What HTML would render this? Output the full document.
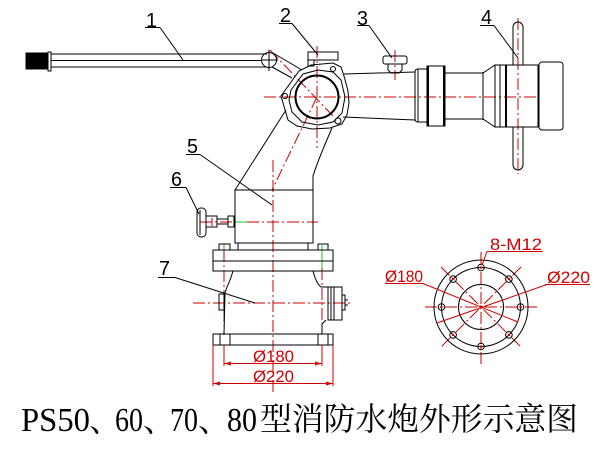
<!DOCTYPE html>
<html><head><meta charset="utf-8"><style>
html,body{margin:0;padding:0;background:#fff;}
svg{display:block;}
.lbl{font-family:"Liberation Sans",sans-serif;font-size:20px;fill:#000;}
.rt{font-family:"Liberation Sans",sans-serif;font-size:17px;fill:#d00000;}
</style></head><body>
<svg width="606" height="453" viewBox="0 0 606 453" xmlns="http://www.w3.org/2000/svg">
<rect width="606" height="453" fill="#fff"/>

<!-- RED CENTER LINES -->
<g fill="none" stroke="#c80000" stroke-width="1" stroke-dasharray="12,3,2,3">
  <line x1="264" y1="97" x2="536" y2="97"/>
  <line x1="317" y1="46" x2="317" y2="148"/>
  <line x1="270" y1="50" x2="333" y2="116"/>
  <line x1="317" y1="97" x2="272" y2="190"/>
  <line x1="273" y1="160" x2="273" y2="392"/>
  <line x1="395" y1="50" x2="395" y2="80"/>
  <line x1="518" y1="18" x2="518" y2="174"/>
  <line x1="200" y1="222" x2="234" y2="222"/>
  <line x1="247" y1="222" x2="318" y2="222"/>
  <line x1="193" y1="303" x2="350" y2="303"/>
  <line x1="224" y1="250" x2="224" y2="334"/>
  <line x1="322" y1="268" x2="322" y2="334"/>
  <!-- flange view -->
  <line x1="425" y1="307" x2="537" y2="307"/>
  <line x1="481" y1="252" x2="481" y2="364"/>
  <line x1="441" y1="267" x2="521" y2="347"/>
  <line x1="521" y1="267" x2="441" y2="347"/>
</g>
<g stroke="#c80000" stroke-width="1">
  <line x1="212" y1="218" x2="212" y2="226"/>
</g>

<!-- GREEN lines -->
<g stroke="#1fbf1f" stroke-width="1">
  <line x1="234" y1="222" x2="247" y2="222"/>
  <line x1="224" y1="244" x2="224" y2="250"/>
  <line x1="322" y1="245" x2="322" y2="268"/>
</g>

<!-- BLACK DRAWING -->
<g fill="none" stroke="#000" stroke-width="1">
  <!-- handle -->
  <rect x="26" y="53" width="21" height="16" fill="#000"/>
  <rect x="48" y="52" width="3" height="19"/>
  <line x1="51" y1="54" x2="267" y2="54"/>
  <line x1="51" y1="60.5" x2="262" y2="60.5"/>
  <line x1="51" y1="67" x2="267" y2="67"/>
  <circle cx="269" cy="60" r="7.5"/>
  <line x1="269" y1="50" x2="269" y2="71"/>
  <line x1="261" y1="60" x2="278" y2="60"/>
  <line x1="273" y1="53" x2="302" y2="70"/>
  <line x1="272" y1="67" x2="292" y2="78"/>

  <!-- elbow -->
  <path d="M281,96 L299,71 L311,65 L333,63 L341,67 L344,76 L348,91 L349,103 L347,115 L342,124 L330,128 L312,129 L297,126 L288,120 Z"/>
  <path d="M291,90 L303,74 L318,70 L333,72 L341,80 L345,97 L342,113 L333,122 L318,125 L302,122 L292,112 L289,100 Z"/>
  <circle cx="317" cy="97" r="21.5" stroke-width="2"/>
  <circle cx="333" cy="69" r="2.5"/>
  <circle cx="338" cy="121" r="3"/>
  <circle cx="285" cy="96" r="2.5"/>
  <rect x="308" y="52" width="30" height="8"/>
  <rect x="308" y="60" width="6" height="6"/>

  <!-- pipe -->
  <line x1="344" y1="74" x2="415" y2="72"/>
  <line x1="343" y1="117" x2="415" y2="120"/>
  <!-- knob 3 -->
  <rect x="383" y="56" width="24" height="8" rx="2"/>
  <path d="M388,64 L388,70 L391,73 L399,73 L402,70 L402,64"/>

  <!-- nozzle -->
  <path d="M427,69 L418,69 Q415,69 415,72 L415,119 Q415,122 418,122 L427,122"/>
  <line x1="418" y1="69" x2="418" y2="122"/>
  <rect x="427" y="66" width="18" height="60"/>
  <line x1="428" y1="66" x2="428" y2="126" stroke-width="2"/>
  <line x1="444" y1="66" x2="444" y2="126" stroke-width="2"/>
  <line x1="445" y1="73" x2="483" y2="73"/>
  <line x1="445" y1="119" x2="483" y2="119"/>
  <line x1="483" y1="72" x2="483" y2="120"/>
  <line x1="483" y1="73" x2="495" y2="65"/>
  <line x1="483" y1="119" x2="495" y2="127"/>
  <rect x="495" y="65" width="43" height="62"/>
  <line x1="500" y1="65" x2="500" y2="127"/>
  <line x1="506" y1="65" x2="506" y2="127" stroke-width="2"/>
  <rect x="539" y="62" width="24" height="68" rx="3"/>
  <!-- wheel 4 -->
  <path d="M513,65 L513,27 A5,5 0 0 1 523,27 L523,65"/>
  <path d="M513,127 L513,165 A5,5 0 0 0 523,165 L523,127"/>

  <!-- arm -->
  <line x1="286" y1="110" x2="235" y2="190"/>
  <path d="M332,128 Q318,160 313,176 L313,190"/>

  <!-- upper block -->
  <rect x="235" y="190" width="78" height="53"/>
  <rect x="238" y="243" width="70" height="7"/>
  <rect x="219" y="244" width="11" height="6"/>
  <rect x="318" y="244" width="10" height="6"/>
  <rect x="213" y="250" width="120" height="21"/>
  <line x1="213" y1="261" x2="333" y2="261"/>

  <!-- valve 6 -->
  <rect x="197" y="208" width="9" height="29" rx="4"/>
  <line x1="200" y1="210" x2="200" y2="235"/>
  <rect x="206" y="216" width="11" height="11"/>
  <rect x="217" y="219" width="11" height="5"/>
  <rect x="228" y="216" width="6" height="11"/>

  <!-- lower body -->
  <path d="M233,271 Q230,281 227,287 L225,293 L224,335"/>
  <rect x="219" y="294" width="5" height="16"/>
  <path d="M313,271 Q316,283 321,287 L328,287"/>
  <rect x="328" y="287" width="14" height="33"/>
  <line x1="331" y1="287" x2="331" y2="320"/>
  <line x1="334" y1="287" x2="334" y2="320"/>
  <rect x="342" y="295" width="3" height="15"/>
  <line x1="345" y1="300" x2="348" y2="300"/>
  <line x1="345" y1="305" x2="348" y2="305"/>
  <path d="M326,320 L322,324 L322,334"/>
  <rect x="213" y="334" width="120" height="11"/>
  <line x1="220" y1="334" x2="220" y2="345"/>
  <line x1="230" y1="334" x2="230" y2="345"/>
  <line x1="318" y1="334" x2="318" y2="345"/>
  <line x1="328" y1="334" x2="328" y2="345"/>

  <!-- flange view -->
  <circle cx="481" cy="307" r="47"/>
  <circle cx="481" cy="307" r="39.5"/>
  <circle cx="481" cy="307" r="22.5"/>
  <circle cx="481" cy="267.5" r="3.3"/>
  <circle cx="481" cy="346.5" r="3.3"/>
  <circle cx="441.5" cy="307" r="3.3"/>
  <circle cx="520.5" cy="307" r="3.3"/>
  <circle cx="453.1" cy="279.1" r="3.3"/>
  <circle cx="508.9" cy="279.1" r="3.3"/>
  <circle cx="453.1" cy="334.9" r="3.3"/>
  <circle cx="508.9" cy="334.9" r="3.3"/>

  <!-- leaders -->
  <line x1="145" y1="27.5" x2="160" y2="27.5"/>
  <line x1="160" y1="27.5" x2="183" y2="60"/>
  <line x1="279" y1="23.5" x2="292" y2="23.5"/>
  <line x1="292" y1="23.5" x2="318" y2="55"/>
  <line x1="357" y1="25.5" x2="369" y2="25.5"/>
  <line x1="369" y1="25.5" x2="392" y2="58"/>
  <line x1="480" y1="25.5" x2="494" y2="25.5"/>
  <line x1="494" y1="25.5" x2="518" y2="58"/>
  <line x1="186" y1="154.5" x2="200" y2="154.5"/>
  <line x1="200" y1="154.5" x2="272" y2="205"/>
  <line x1="170" y1="187.5" x2="186" y2="187.5"/>
  <line x1="186" y1="187.5" x2="199" y2="214"/>
  <line x1="158" y1="277.5" x2="175" y2="277.5"/>
  <line x1="175" y1="277.5" x2="255" y2="303"/>
</g>

<!-- RED DIMENSIONS -->
<g fill="none" stroke="#d00000" stroke-width="1">
  <line x1="224" y1="345" x2="224" y2="366"/>
  <line x1="322" y1="345" x2="322" y2="366"/>
  <line x1="224" y1="363.5" x2="322" y2="363.5"/>
  <line x1="213" y1="345" x2="213" y2="386"/>
  <line x1="333" y1="345" x2="333" y2="386"/>
  <line x1="213" y1="383.5" x2="333" y2="383.5"/>
  <!-- flange view leaders -->
  <line x1="385" y1="283.5" x2="423" y2="283.5"/>
  <line x1="423" y1="283.5" x2="518" y2="322"/>
  <line x1="545" y1="284.5" x2="590" y2="284.5"/>
  <line x1="547" y1="284.5" x2="437" y2="323"/>
  <line x1="487" y1="251.5" x2="543" y2="251.5"/>
  <line x1="487" y1="251.5" x2="482" y2="265"/>
</g>
<g fill="#d00000">
  <polygon points="224,363.5 231,361.5 231,365.5"/>
  <polygon points="322,363.5 315,361.5 315,365.5"/>
  <polygon points="213,383.5 220,381.5 220,385.5"/>
  <polygon points="333,383.5 326,381.5 326,385.5"/>
  <circle cx="481" cy="307" r="1.5"/>
  <circle cx="481" cy="267.5" r="1.2"/>
  <circle cx="481" cy="346.5" r="1.2"/>
  <circle cx="441.5" cy="307" r="1.2"/>
  <circle cx="520.5" cy="307" r="1.2"/>
  <circle cx="453.1" cy="279.1" r="1.2"/>
  <circle cx="508.9" cy="279.1" r="1.2"/>
  <circle cx="453.1" cy="334.9" r="1.2"/>
  <circle cx="508.9" cy="334.9" r="1.2"/>
</g>

<!-- labels -->
<text class="lbl" x="146" y="27" textLength="11" lengthAdjust="spacingAndGlyphs">1</text>
<text class="lbl" x="280" y="22" textLength="11" lengthAdjust="spacingAndGlyphs">2</text>
<text class="lbl" x="357" y="25" textLength="11" lengthAdjust="spacingAndGlyphs">3</text>
<text class="lbl" x="481" y="24" textLength="11" lengthAdjust="spacingAndGlyphs">4</text>
<text class="lbl" x="187" y="153" textLength="11" lengthAdjust="spacingAndGlyphs">5</text>
<text class="lbl" x="171" y="186" textLength="11" lengthAdjust="spacingAndGlyphs">6</text>
<text class="lbl" x="159" y="275" textLength="11" lengthAdjust="spacingAndGlyphs">7</text>

<text class="rt" x="253" y="362" textLength="41" lengthAdjust="spacingAndGlyphs">Ø180</text>
<text class="rt" x="253" y="382" textLength="41" lengthAdjust="spacingAndGlyphs">Ø220</text>
<text class="rt" x="385" y="282" textLength="38" lengthAdjust="spacingAndGlyphs">Ø180</text>
<text class="rt" x="547" y="283" textLength="43" lengthAdjust="spacingAndGlyphs">Ø220</text>
<text class="rt" x="490" y="250" textLength="52" lengthAdjust="spacingAndGlyphs">8-M12</text>

<!-- title -->
<g font-family="'Liberation Serif','Noto Serif CJK SC',serif" fill="#000">
  <text x="21" y="431" font-size="34" textLength="69" lengthAdjust="spacingAndGlyphs">PS50</text>
  <text x="89" y="431" font-size="32" font-family="'Noto Serif CJK SC',serif">、</text>
  <text x="115" y="431" font-size="34" textLength="28" lengthAdjust="spacingAndGlyphs">60</text>
  <text x="143" y="431" font-size="32" font-family="'Noto Serif CJK SC',serif">、</text>
  <text x="170" y="431" font-size="34" textLength="28" lengthAdjust="spacingAndGlyphs">70</text>
  <text x="198" y="431" font-size="32" font-family="'Noto Serif CJK SC',serif">、</text>
  <text x="227" y="431" font-size="34" textLength="30" lengthAdjust="spacingAndGlyphs">80</text>
  <text x="260" y="430" font-size="32" font-family="'Noto Serif CJK SC',serif" textLength="318" lengthAdjust="spacingAndGlyphs">型消防水炮外形示意图</text>
</g>
</svg>
</body></html>
